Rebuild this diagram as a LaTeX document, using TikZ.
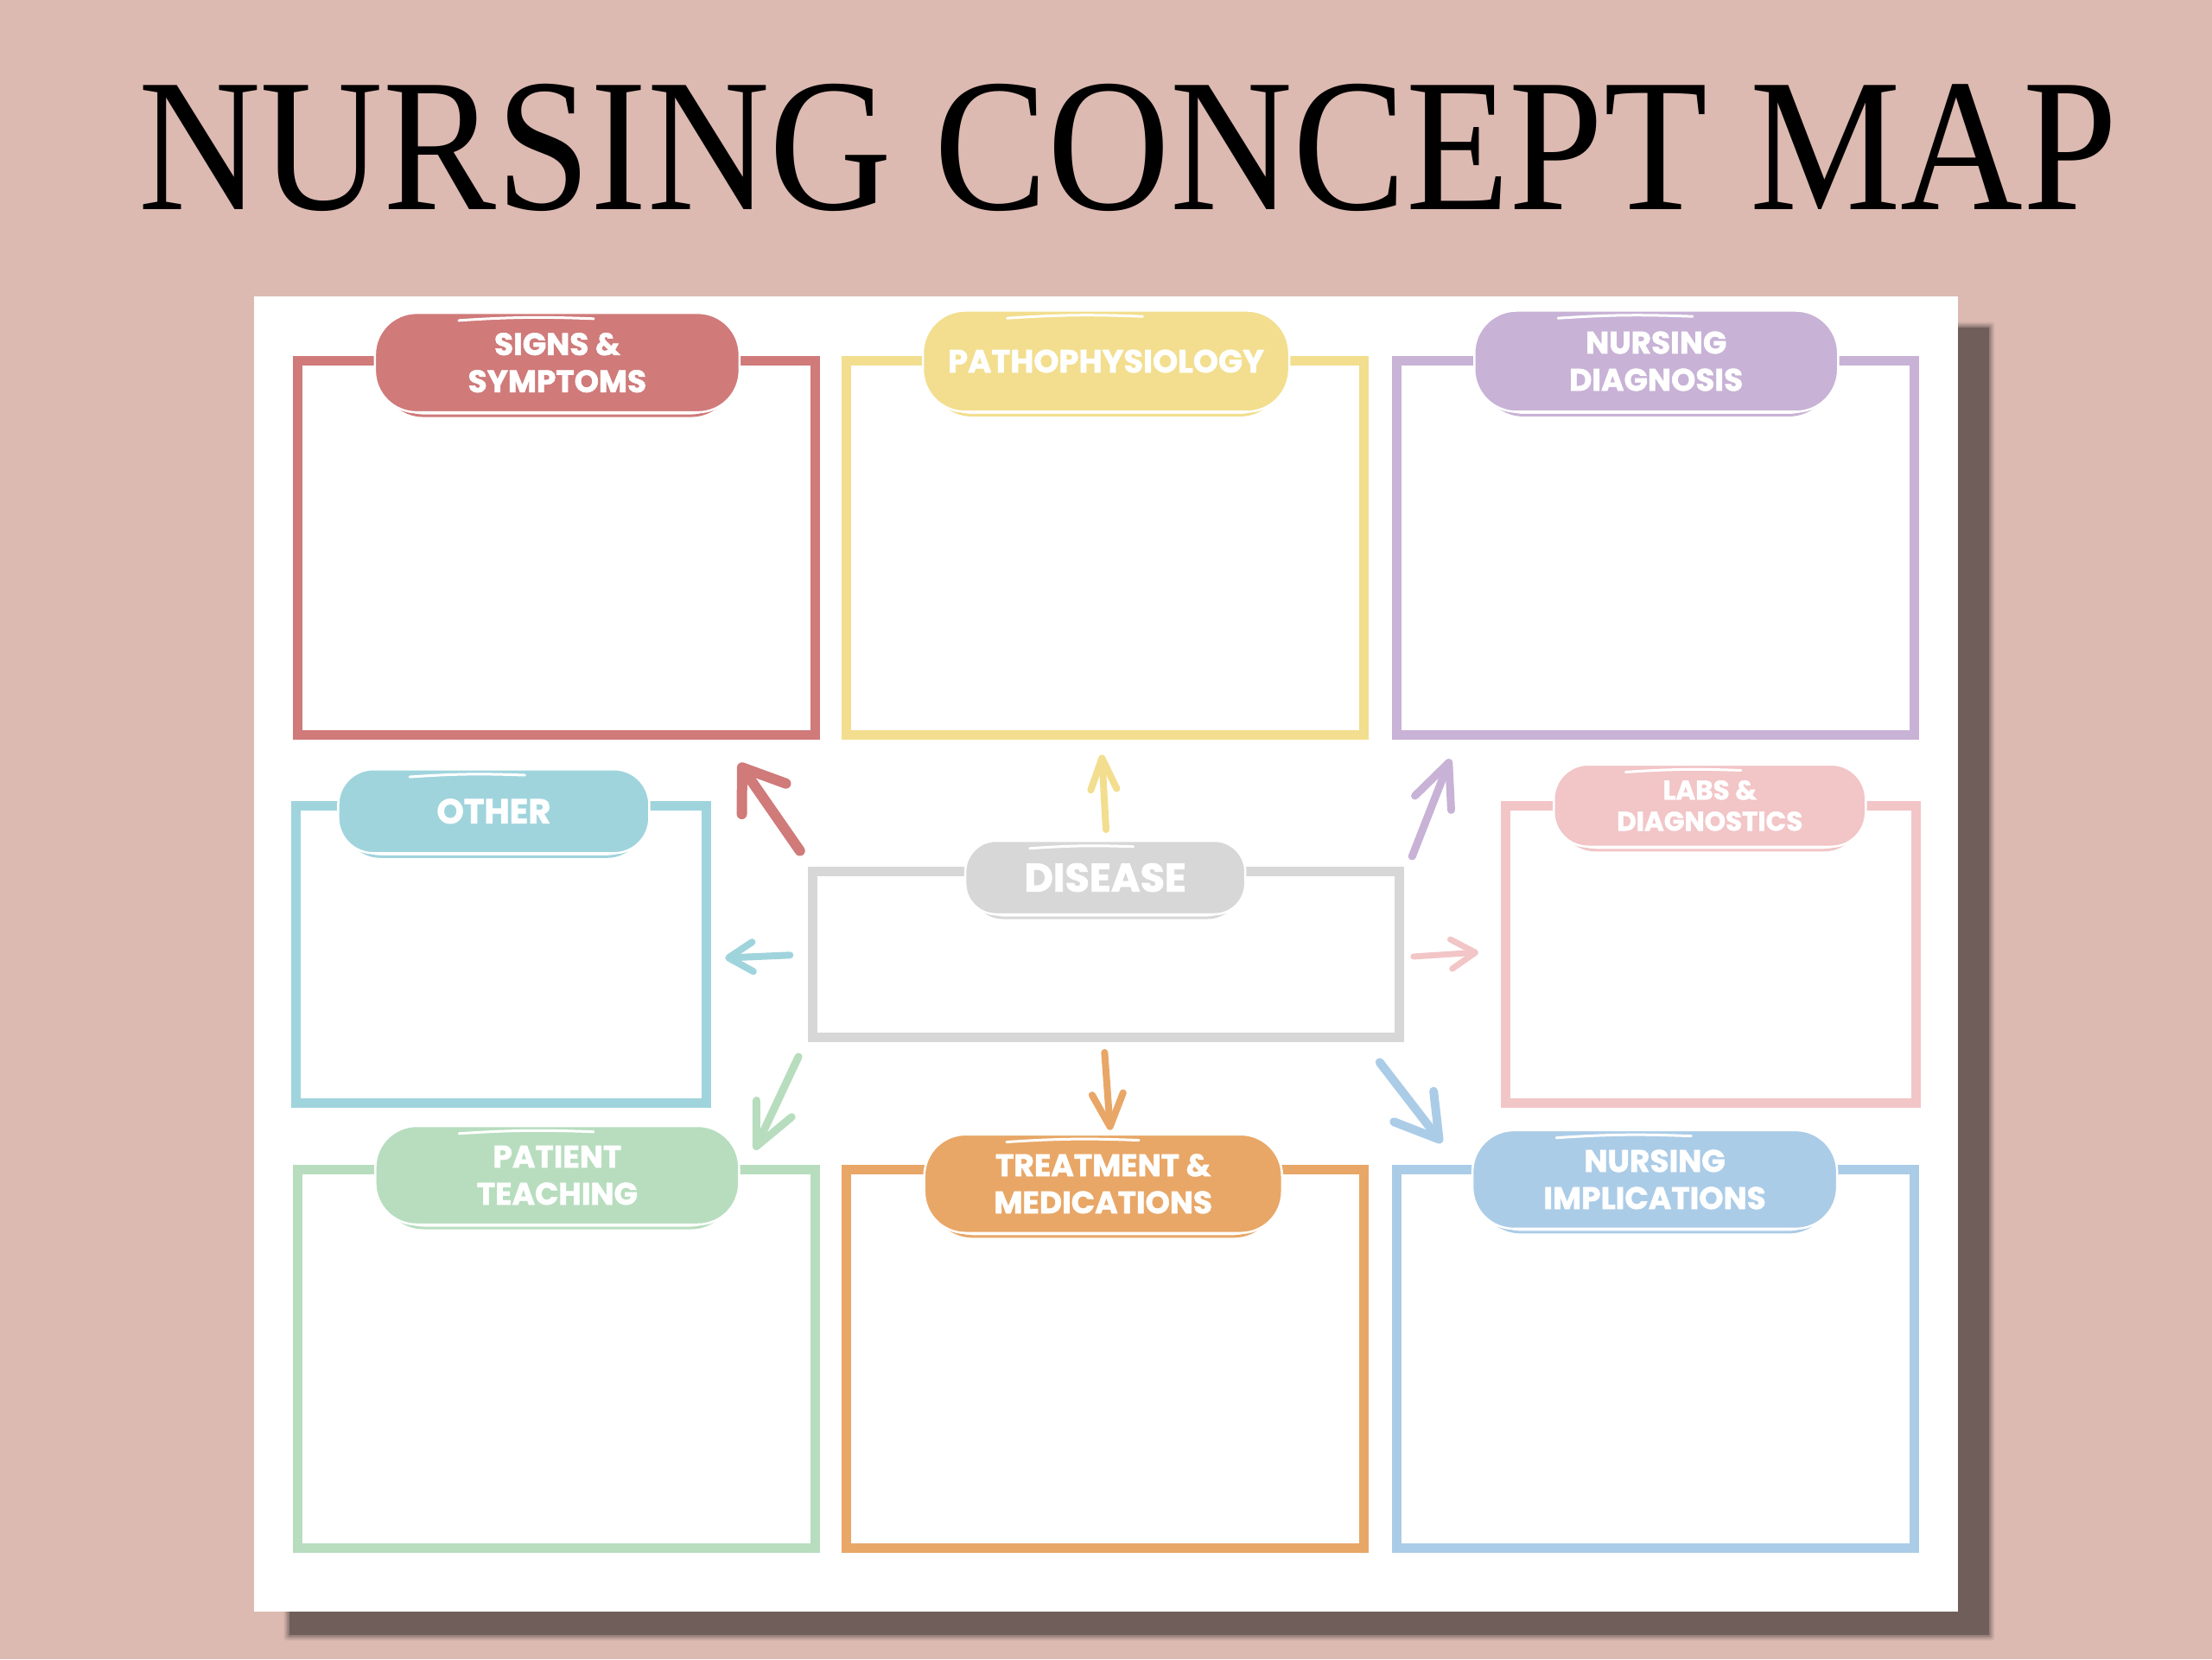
\documentclass[tikz,border=0pt]{standalone}
\usepackage{fontspec}
\usepackage{graphicx}
\usetikzlibrary{arrows.meta,fit,calc}
\newfontfamily\titlefont{Liberation Serif}
\newfontfamily\lblfont{Poppins}[BoldFeatures={FakeBold=1.6}]
\definecolor{bgpink}{RGB}{220,185,177}
\definecolor{shadowc}{RGB}{111,94,90}
\definecolor{cred}{RGB}{208,122,122}
\definecolor{cyel}{RGB}{242,222,142}
\definecolor{cpur}{RGB}{200,178,214}
\definecolor{ccya}{RGB}{160,212,221}
\definecolor{cpnk}{RGB}{242,197,199}
\definecolor{cgry}{RGB}{215,215,215}
\definecolor{cgrn}{RGB}{183,221,190}
\definecolor{cora}{RGB}{232,167,103}
\definecolor{cblu}{RGB}{171,204,231}
\tikzset{
  box/.style={draw=#1, line width=11pt, inner sep=0pt, rectangle},
  blob/.style={rectangle, fill=#1, draw=white, line width=2.5pt, inner sep=0pt, text=white, align=center},
  rim/.style={rectangle, draw=#1, line width=3pt, inner sep=0pt},
  streak/.style={draw=white, line width=3pt, line cap=round},
  arr/.style n args={4}{draw=#1, line width=#2, line cap=round, line join=round,
    -{Straight Barb[length=#3, width=#4, round]}},
}
% name, x, y, w, h, color, fontsize, skip, text
\newcommand\mklabel[9]{%
  \node[rim=#6, rounded corners=0.42*#5pt, minimum width=#4pt-16pt, minimum height=#5pt-6pt] (#1rim) at ([yshift=-7pt]#2,#3) {};
  \node[blob=#6, rounded corners=0.42*#5pt, minimum width=#4pt, minimum height=#5pt,
        font={\lblfont\bfseries\fontsize{#7}{#8}\selectfont}] (#1) at (#2,#3) {#9};
  \draw[streak] ($(#1.north)+(-0.27*#4pt,-10pt)$) to[bend left=3] ($(#1.north)+(0.1*#4pt,-8pt)$);
}
\begin{document}
\begin{tikzpicture}[x=1.63265pt, y=-1.63265pt]
\useasboundingbox (0,0) rectangle (1568,1176);
\fill[bgpink] (0,0) rectangle (1568,1176);
% shadow
\foreach \k/\o in {6/0.15,4/0.25,2/0.4} {
  \fill[shadowc, opacity=\o, rounded corners=3pt] ([shift={(-\k pt,\k pt)}]205,232) rectangle ([shift={(\k pt,-\k pt)}]1410,1159);
}
\fill[shadowc] (205,232) rectangle (1410,1159);
% paper
\fill[white] (180,210) rectangle (1388,1142);
% title
\node[anchor=base west, inner sep=0pt] (title) at (98,148.8)
  {\resizebox{2287pt}{145pt}{\titlefont NURSING CONCEPT MAP}};
% boxes
\node[box=cred, fit={(211,256) (578,521)}] (ssbox) {};
\node[box=cyel, fit={(600,256) (967,521)}] (pabox) {};
\node[box=cpur, fit={(990,256) (1357,521)}] (ndbox) {};
\node[box=ccya, fit={(210,571) (501,782)}] (otbox) {};
\node[box=cgry, fit={(576,618) (992,735)}] (dibox) {};
\node[box=cpnk, fit={(1067,571) (1358,782)}] (labox) {};
\node[box=cgrn, fit={(211,829) (578,1097)}] (ptbox) {};
\node[box=cora, fit={(600,829) (967,1097)}] (trbox) {};
\node[box=cblu, fit={(990,829) (1357,1097)}] (nibox) {};
% arrows
\coordinate (a1s) at (567,603);  \coordinate (a1e) at (524,541);
\coordinate (a2s) at (784,588);  \coordinate (a2e) at (781,535);
\coordinate (a3s) at (1001,607); \coordinate (a3e) at (1028,538);
\coordinate (a4s) at (560,677);  \coordinate (a4e) at (514,679);
\coordinate (a5s) at (1002,678); \coordinate (a5e) at (1048,675);
\coordinate (a6s) at (566,749);  \coordinate (a6e) at (535,815);
\coordinate (a7s) at (783,746);  \coordinate (a7e) at (787,801);
\coordinate (a8s) at (978,753);  \coordinate (a8e) at (1022,810);
\draw[arr={cred}{12pt}{44pt}{62pt}] (a1s) -- (a1e);
\draw[arr={cyel}{8pt}{36pt}{30pt}] (a2s) -- (a2e);
\draw[arr={cpur}{9pt}{50pt}{45pt}] (a3s) -- (a3e);
\draw[arr={ccya}{8pt}{28pt}{34pt}] (a4s) -- (a4e);
\draw[arr={cpnk}{7pt}{28pt}{34pt}] (a5s) -- (a5e);
\draw[arr={cgrn}{9pt}{48pt}{45pt}] (a6s) -- (a6e);
\draw[arr={cora}{8pt}{38pt}{36pt}] (a7s) -- (a7e);
\draw[arr={cblu}{10pt}{48pt}{58pt}] (a8s) -- (a8e);
% labels
\mklabel{ss}{395}{257}{422}{115}{cred}{36}{43}{SIGNS \&\\SYMPTOMS}
\mklabel{pa}{784}{256}{424}{117}{cyel}{37}{43}{PATHOPHYSIOLOGY}
\mklabel{nd}{1174}{256}{421}{117}{cpur}{36}{43}{NURSING\\DIAGNOSIS}
\mklabel{ot}{350}{575}{360}{97}{ccya}{40}{43}{OTHER}
\mklabel{la}{1212}{571}{361}{95}{cpnk}{31}{36}{LABS \&\\DIAGNOSTICS}
\mklabel{di}{783.5}{622}{324}{85}{cgry}{46}{48}{DISEASE}
\mklabel{pt}{395}{833}{421}{114}{cgrn}{36}{43}{PATIENT\\TEACHING}
\mklabel{tr}{782}{839}{414}{114}{cora}{36}{43}{TREATMENT \&\\MEDICATIONS}
\mklabel{ni}{1173}{836}{422}{114}{cblu}{36}{43}{NURSING\\IMPLICATIONS}
\end{tikzpicture}
\end{document}
